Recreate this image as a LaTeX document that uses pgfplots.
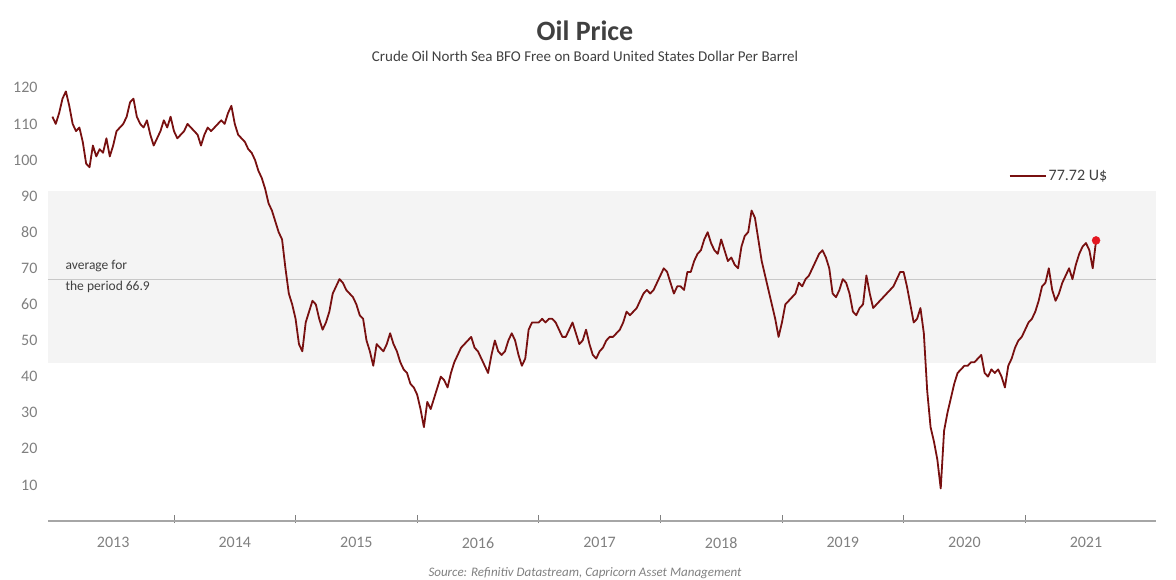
\documentclass[border=0pt]{standalone}
\usepackage{pgfplots}
\pgfplotsset{compat=1.18}
\usepackage{pgfplotstable}
\usepackage{fontspec}
\setmainfont{Carlito}

\definecolor{oil}{RGB}{120,16,16}
\definecolor{dot}{RGB}{228,22,32}
\definecolor{band}{RGB}{244,244,244}
\definecolor{avg}{RGB}{200,200,200}
\definecolor{tickc}{RGB}{128,128,128}
\definecolor{txt}{RGB}{64,64,64}

% Brent, three readings a month from Jan 2013 (index/36 = years since Jan 2013)
\pgfplotstableread[row sep=\\]{
p\\
112\\ 110\\ 113\\ 117\\ 119\\ 115\\ 110\\ 108\\ 109\\ 105\\ 99\\ 98\\
104\\ 101\\ 103\\ 102\\ 106\\ 101\\ 104\\ 108\\ 109\\ 110\\ 112\\ 116\\
117\\ 112\\ 110\\ 109\\ 111\\ 107\\ 104\\ 106\\ 108\\ 111\\ 109\\ 112\\
108\\ 106\\ 107\\ 108\\ 110\\ 109\\ 108\\ 107\\ 104\\ 107\\ 109\\ 108\\
109\\ 110\\ 111\\ 110\\ 113\\ 115\\ 110\\ 107\\ 106\\ 105\\ 103\\ 102\\
100\\ 97\\ 95\\ 92\\ 88\\ 86\\ 83\\ 80\\ 78\\ 70\\ 63\\ 60\\
56\\ 49\\ 47\\ 55\\ 58\\ 61\\ 60\\ 56\\ 53\\ 55\\ 58\\ 63\\
65\\ 67\\ 66\\ 64\\ 63\\ 62\\ 60\\ 57\\ 56\\ 50\\ 47\\ 43\\
49\\ 48\\ 47\\ 49\\ 52\\ 49\\ 47\\ 44\\ 42\\ 41\\ 38\\ 37\\
35\\ 31\\ 26\\ 33\\ 31\\ 34\\ 37\\ 40\\ 39\\ 37\\ 41\\ 44\\
46\\ 48\\ 49\\ 50\\ 51\\ 48\\ 47\\ 45\\ 43\\ 41\\ 46\\ 50\\
47\\ 46\\ 47\\ 50\\ 52\\ 50\\ 46\\ 43\\ 45\\ 53\\ 55\\ 55\\
55\\ 56\\ 55\\ 56\\ 56\\ 55\\ 53\\ 51\\ 51\\ 53\\ 55\\ 52\\
49\\ 50\\ 53\\ 49\\ 46\\ 45\\ 47\\ 48\\ 50\\ 51\\ 51\\ 52\\
53\\ 55\\ 58\\ 57\\ 58\\ 59\\ 61\\ 63\\ 64\\ 63\\ 64\\ 66\\
68\\ 70\\ 69\\ 66\\ 63\\ 65\\ 65\\ 64\\ 69\\ 69\\ 72\\ 74\\
75\\ 78\\ 80\\ 77\\ 75\\ 74\\ 78\\ 75\\ 72\\ 73\\ 71\\ 70\\
76\\ 79\\ 80\\ 86\\ 84\\ 78\\ 72\\ 68\\ 64\\ 60\\ 56\\ 51\\
55\\ 60\\ 61\\ 62\\ 63\\ 66\\ 65\\ 67\\ 68\\ 70\\ 72\\ 74\\
75\\ 73\\ 70\\ 63\\ 62\\ 64\\ 67\\ 66\\ 63\\ 58\\ 57\\ 59\\
60\\ 68\\ 63\\ 59\\ 60\\ 61\\ 62\\ 63\\ 64\\ 65\\ 67\\ 69\\
69\\ 65\\ 60\\ 55\\ 56\\ 59\\ 52\\ 36\\ 26\\ 22\\ 17\\ 9\\
25\\ 30\\ 34\\ 38\\ 41\\ 42\\ 43\\ 43\\ 44\\ 44\\ 45\\ 46\\
41\\ 40\\ 42\\ 41\\ 42\\ 40\\ 37\\ 43\\ 45\\ 48\\ 50\\ 51\\
53\\ 55\\ 56\\ 58\\ 61\\ 65\\ 66\\ 70\\ 64\\ 61\\ 63\\ 66\\
68\\ 70\\ 67\\ 71\\ 74\\ 76\\ 77\\ 75\\ 70\\ 77.72\\
}\oiltable

\begin{document}
\begin{tikzpicture}
\begin{axis}[
    scale only axis,
    width=1108pt, height=451.25pt,
    xmin=2012.964, xmax=2022.076,
    ymin=0, ymax=125,
    axis x line*=bottom,
    axis y line*=left,
    y axis line style={draw=none},
    x axis line style={draw=tickc!70, line width=1.8pt, -},
    xtick={2013.5,2014.5,2015.5,2016.5,2017.5,2018.5,2019.5,2020.5,2021.5},
    xticklabels={2013,2014,2015,2016,2017,2018,2019,2020,2021},
    minor xtick={2014,2015,2016,2017,2018,2019,2020,2021},
    major tick length=0pt,
    minor tick length=8pt,
    tick align=center,
    minor tick style={draw=tickc, line width=0.8pt, yshift=2pt},
    ytick={10,20,30,40,50,60,70,80,90,100,110,120},
    /pgf/number format/assume math mode=true,
    tick label style={font=\fontsize{16}{18}\selectfont, text=tickc},
    xticklabel style={yshift=-13pt},
    yticklabel style={xshift=-7pt},
    legend style={at={(axis cs:2020.84,95.6)}, anchor=west, draw=none, fill=none,
        font=\fontsize{16}{18}\selectfont, text=txt},
    legend image code/.code={\draw[#1, line width=1.2pt] (0pt,0pt) -- (30pt,0pt);
        \path (0pt,0pt) -- (36pt,0pt);},
    clip=false,
]
\addplot[fill=band, draw=none, forget plot] coordinates
    {(2012.964,43.8) (2022.076,43.8) (2022.076,91.3) (2012.964,91.3)} -- cycle;
\addplot[avg, line width=1pt, forget plot] coordinates
    {(2012.964,66.9) (2022.076,66.9)};
\addplot[oil, line width=1.8pt, line join=round] table[x expr=2013+\coordindex/36, y=p] {\oiltable};
\addlegendentry{77.72 U\$}
\addplot[only marks, mark=*, mark size=4pt, dot, forget plot] coordinates {(2021.583,77.72)};
\node[anchor=west, align=left, font=\fontsize{13.5}{21}\selectfont, text=txt]
    at (axis cs:2013.08,67.7) {average for\\the period 66.9};
\end{axis}
\node[font=\fontsize{28}{30}\selectfont\bfseries, text=txt]
    at ([xshift=537pt, yshift=490pt]current axis.south west) {Oil Price};
\node[font=\fontsize{15}{17}\selectfont, text=txt]
    at ([xshift=537pt, yshift=465pt]current axis.south west)
    {Crude Oil North Sea BFO Free on Board United States Dollar Per Barrel};
\node[font=\fontsize{13}{15}\selectfont\itshape, text=tickc]
    at ([xshift=537pt, yshift=-52pt]current axis.south west)
    {Source: Refinitiv Datastream, Capricorn Asset Management};
\pgfresetboundingbox
\path ([xshift=-48pt, yshift=-58pt]current axis.south west) rectangle ++(1176pt,579pt);
\end{tikzpicture}
\end{document}
